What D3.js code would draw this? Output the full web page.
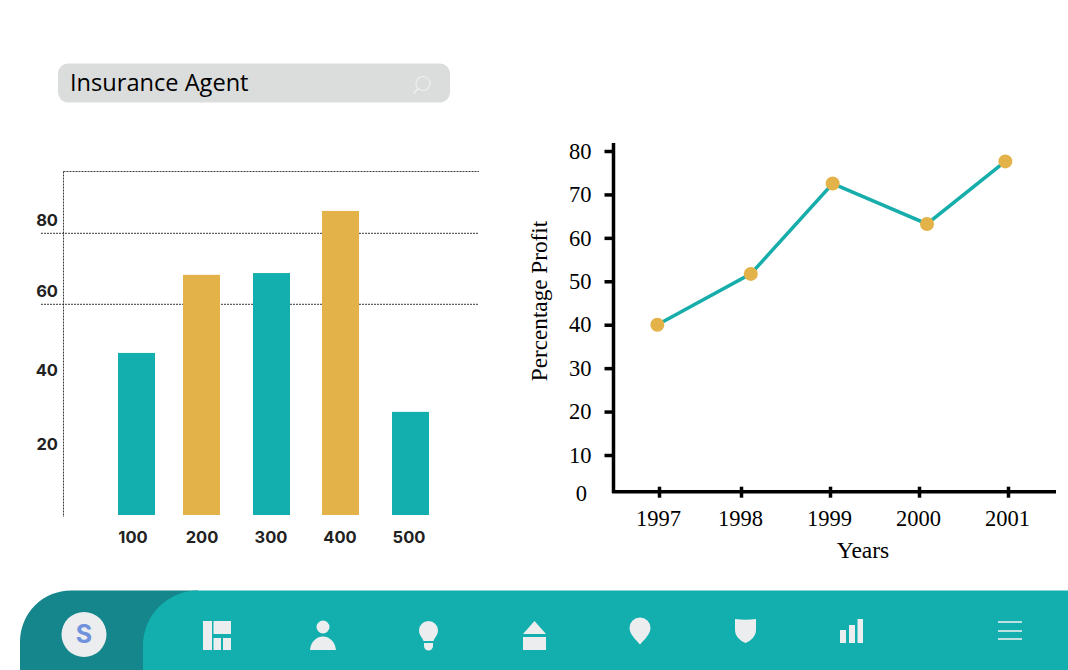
<!DOCTYPE html>
<html lang="en">
<head>
<meta charset="utf-8">
<title>Insurance Agent</title>
<script src="https://d3js.org/d3.v7.min.js"></script>
<style>
  html, body { margin: 0; padding: 0; background: #fff; }
  svg { display: block; }
  .left text { font-family: Inter, "Open Sans", sans-serif; font-weight: 700; font-size: 16.5px; fill: #222; }
  .right text { font-family: "Liberation Serif", serif; font-size: 22.5px; fill: #000; }
  .dots { fill: none; stroke: #222; stroke-width: 0.9; stroke-dasharray: 2 1; }
</style>
</head>
<body>
<svg id="chart" width="1068" height="670"></svg>

<script>
// bar chart values
var sizes = ["100", "200", "300", "400", "500"];
var sizeValues = [46.3, 68.3, 68.8, 86.3, 29.7];
var barTicks = [20, 40, 60, 80];
var barGrid = [60, 80];

// line chart values
var years = [1997, 1998, 1999, 2000, 2001];
var profit = [40, 51.7, 72.5, 63.2, 77.6];
// the points do not sit exactly over the year ticks in the picture
var pointYears = [1996.98, 1998.11, 1999.03, 2000.09, 2000.97];
var profitTicks = [10, 20, 30, 40, 50, 60, 70, 80];

var teal = "#12afae";
var gold = "#e3b248";
var icon = "#ecedee";

var svg = d3.select("#chart");

drawSearch();
drawBars();
drawLine();
drawNav();

function drawSearch() {
  var g = svg.append("g");
  g.append("rect")
    .attr("x", 58).attr("y", 63.5)
    .attr("width", 392).attr("height", 39)
    .attr("rx", 10)
    .attr("fill", "#dbdddc");
  g.append("text")
    .attr("x", 70).attr("y", 91)
    .attr("font-family", "'Open Sans', sans-serif")
    .attr("font-size", 23.6)
    .attr("fill", "#000")
    .text("Insurance Agent");
  // magnifier
  g.append("circle")
    .attr("cx", 423).attr("cy", 83.5).attr("r", 7)
    .attr("fill", "none").attr("stroke", "#eef0ef").attr("stroke-width", 1.2);
  g.append("line")
    .attr("x1", 418).attr("y1", 88.5).attr("x2", 413.5).attr("y2", 93.5)
    .attr("stroke", "#eef0ef").attr("stroke-width", 1.4);
}

function drawBars() {
  var g = svg.append("g").attr("class", "left");

  // the bars are not evenly spaced in the picture
  var x = d3.scaleOrdinal()
    .domain(sizes)
    .range([118, 183, 253, 322, 392]);
  var barWidth = 37;

  var labelX = d3.scalePoint()
    .domain(sizes)
    .range([133, 409]);

  var y = d3.scaleLinear()
    .domain([0, 100])
    .range([517.3, 162.3]);
  var floor = 515;

  // dotted frame and grid
  g.append("line").attr("class", "dots")
    .attr("x1", 63.5).attr("x2", 63.5).attr("y1", 171.5).attr("y2", 517);
  g.append("line").attr("class", "dots")
    .attr("x1", 63.5).attr("x2", 479).attr("y1", 171.5).attr("y2", 171.5);
  g.selectAll("line.grid")
    .data(barGrid)
    .enter()
    .append("line")
    .attr("class", "grid dots")
    .attr("x1", 41).attr("x2", 478)
    .attr("y1", function(d) { return y(d); })
    .attr("y2", function(d) { return y(d); });

  g.selectAll("rect")
    .data(sizes)
    .enter()
    .append("rect")
    .attr("x", function(d) { return x(d); })
    .attr("y", function(d, i) { return y(sizeValues[i]); })
    .attr("width", barWidth)
    .attr("height", function(d, i) { return floor - y(sizeValues[i]); })
    .attr("fill", function(d, i) { return i % 2 ? gold : teal; });

  // labels float above their grid lines, more so higher up
  var lift = { 20: 2, 40: 5, 60: 13.3, 80: 13.3 };
  g.selectAll("text.ytick")
    .data(barTicks)
    .enter()
    .append("text")
    .attr("class", "ytick")
    .attr("x", 58)
    .attr("y", function(d) { return y(d) - lift[d]; })
    .attr("dy", "0.35em")
    .attr("text-anchor", "end")
    .text(function(d) { return d; });

  g.selectAll("text.xtick")
    .data(sizes)
    .enter()
    .append("text")
    .attr("class", "xtick")
    .attr("x", function(d) { return labelX(d); })
    .attr("y", 542.5)
    .attr("text-anchor", "middle")
    .text(function(d) { return d; });
}

function drawLine() {
  var g = svg.append("g").attr("class", "right");

  var x = d3.scaleLinear()
    .domain(years)
    .range([659, 741, 830, 919, 1008]);

  var y = d3.scaleLinear()
    .domain([10, 80])
    .range([455, 151]);

  // y axis
  var yAxis = g.append("g")
    .attr("transform", "translate(613.5,0)")
    .call(d3.axisLeft(y).tickValues(profitTicks).tickSize(9).tickPadding(13).tickFormat(d3.format("d")));
  yAxis.select(".domain").remove();
  yAxis.selectAll("line").attr("stroke", "#000").attr("stroke-width", 3.5);
  yAxis.selectAll("text").attr("font-size", 22.5).attr("font-family", "'Liberation Serif', serif");
  g.append("line")
    .attr("x1", 613.5).attr("x2", 613.5).attr("y1", 143).attr("y2", 493)
    .attr("stroke", "#000").attr("stroke-width", 3.5);
  g.append("text")
    .attr("x", 587).attr("y", 500.5)
    .attr("text-anchor", "end")
    .text("0");

  // x axis
  var xAxis = g.append("g")
    .attr("transform", "translate(0,491.7)")
    .call(d3.axisBottom(x).tickValues(years).tickSize(6).tickPadding(12).tickFormat(d3.format("d")));
  xAxis.select(".domain").remove();
  xAxis.selectAll("line").attr("y1", -5).attr("stroke", "#000").attr("stroke-width", 3.5);
  xAxis.selectAll("text").attr("font-size", 22.5).attr("font-family", "'Liberation Serif', serif").attr("dx", -1);
  g.append("line")
    .attr("x1", 612).attr("x2", 1056).attr("y1", 491.7).attr("y2", 491.7)
    .attr("stroke", "#000").attr("stroke-width", 3.5);

  // titles
  g.append("text")
    .attr("x", 863).attr("y", 558)
    .attr("text-anchor", "middle")
    .style("font-size", "23.5px")
    .text("Years");
  g.append("text")
    .attr("transform", "translate(547,301) rotate(-90)")
    .attr("text-anchor", "middle")
    .style("font-size", "23.2px")
    .text("Percentage Profit");

  var line = d3.line()
    .x(function(d, i) { return x(pointYears[i]); })
    .y(function(d) { return y(d); });

  g.append("path")
    .attr("d", line(profit))
    .attr("fill", "none")
    .attr("stroke", "#16adaa")
    .attr("stroke-width", 3.5);

  g.selectAll("circle")
    .data(profit)
    .enter()
    .append("circle")
    .attr("cx", function(d, i) { return x(pointYears[i]); })
    .attr("cy", function(d) { return y(d); })
    .attr("r", 7)
    .attr("fill", gold);
}

function drawNav() {
  var g = svg.append("g");

  g.append("path")
    .attr("d", "M20,670V641A51,51 0 0 1 71,590.5H198V670Z")
    .attr("fill", "#14868c");
  g.append("path")
    .attr("d", "M143,670V645A55,55 0 0 1 198,590.5H1068V670Z")
    .attr("fill", teal);

  // avatar
  g.append("circle")
    .attr("cx", 84).attr("cy", 634.5).attr("r", 22.5)
    .attr("fill", icon);
  g.append("text")
    .attr("x", 84).attr("y", 643)
    .attr("text-anchor", "middle")
    .attr("font-family", "Inter, sans-serif")
    .attr("font-weight", 700)
    .attr("font-size", 25)
    .attr("fill", "#7092dd")
    .text("S");

  var paths = [
    // dashboard
    "M203,621H212V650H203Z M213.5,621H231V634H213.5Z M213.5,638H221V650H213.5Z M223,638H231V650H223Z",
    // person
    "M316.5,627A6.5,6.5 0 1 1 329.5,627A6.5,6.5 0 1 1 316.5,627Z M310,650C311,641 317,636.5 323,636.5C329,636.5 335,641 336,650Z",
    // bulb
    "M419,630.5A9.5,9.5 0 1 1 438,630.5C438,635 435,637 433.5,641H423.5C422,637 419,635 419,630.5Z M424,643H433V646A4.5,4.5 0 0 1 424,646Z",
    // house
    "M534.5,621L546,634H523Z M523,637H546V650H523Z",
    // pin
    "M629.5,628A10.5,10.5 0 1 1 650.5,628C650.5,634 644,640 640,644.5C636,640 629.5,634 629.5,628Z",
    // shield
    "M735,619C742,620 749,620 756,619V630C756,636 751,641 745.5,643C740,641 735,636 735,630Z",
    // signal bars
    "M840,630H846V643H840Z M849,625H855V643H849Z M857.5,619H863V643H857.5Z"
  ];
  g.selectAll("path.icon")
    .data(paths)
    .enter()
    .append("path")
    .attr("class", "icon")
    .attr("d", function(d) { return d; })
    .attr("fill", icon);

  // menu
  g.selectAll("line")
    .data([622, 631, 639])
    .enter()
    .append("line")
    .attr("x1", 998).attr("x2", 1022)
    .attr("y1", function(d) { return d; })
    .attr("y2", function(d) { return d; })
    .attr("stroke", icon)
    .attr("stroke-width", 1.6);
}
</script>
</body>
</html>
